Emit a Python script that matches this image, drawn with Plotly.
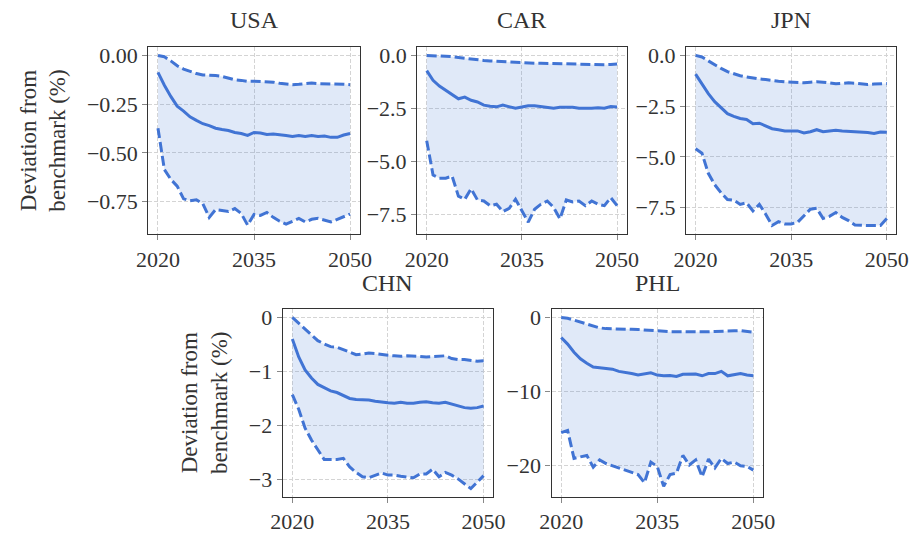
import plotly.graph_objects as go

years = list(range(2020, 2051))

usa_med = [-0.087, -0.153, -0.21, -0.26, -0.285, -0.315, -0.333, -0.35, -0.36, -0.373, -0.38, -0.385, -0.395, -0.40, -0.41,
           -0.395, -0.398, -0.405, -0.403, -0.405, -0.41, -0.415, -0.41, -0.415, -0.41, -0.415, -0.413, -0.42, -0.42, -0.408, -0.40]
usa_up = [0.0, -0.007, -0.028, -0.053, -0.07, -0.083, -0.093, -0.1, -0.1, -0.103, -0.108, -0.115, -0.125, -0.128, -0.133,
          -0.132, -0.133, -0.137, -0.137, -0.143, -0.147, -0.15, -0.148, -0.145, -0.142, -0.145, -0.145, -0.147, -0.148, -0.148, -0.15]
usa_lo = [-0.373, -0.585, -0.635, -0.67, -0.735, -0.745, -0.74, -0.76, -0.83, -0.79, -0.795, -0.80, -0.785, -0.81, -0.87,
          -0.815, -0.82, -0.805, -0.83, -0.85, -0.865, -0.85, -0.835, -0.853, -0.84, -0.835, -0.845, -0.853, -0.84, -0.825, -0.813]

car_med = [-0.72, -1.18, -1.45, -1.65, -1.85, -2.05, -1.97, -2.12, -2.2, -2.35, -2.4, -2.43, -2.35, -2.43, -2.5,
           -2.44, -2.38, -2.38, -2.41, -2.44, -2.5, -2.45, -2.45, -2.45, -2.5, -2.51, -2.5, -2.47, -2.5, -2.42, -2.44]
car_up = [0.0, -0.01, -0.03, -0.04, -0.06, -0.1, -0.14, -0.18, -0.22, -0.24, -0.26, -0.28, -0.3, -0.32, -0.34,
          -0.36, -0.37, -0.37, -0.37, -0.38, -0.38, -0.39, -0.39, -0.40, -0.41, -0.42, -0.43, -0.44, -0.44, -0.43, -0.41]
car_lo = [-4.03, -5.65, -5.8, -5.8, -5.7, -6.65, -6.8, -6.3, -6.83, -6.88, -7.1, -7.03, -7.38, -7.23, -6.8,
          -7.34, -7.88, -7.27, -7.03, -6.88, -7.18, -7.72, -6.83, -6.92, -6.88, -7.1, -6.88, -7.03, -7.1, -6.72, -7.1]

jpn_med = [-0.92, -1.4, -1.88, -2.28, -2.57, -2.87, -3.0, -3.11, -3.16, -3.37, -3.34, -3.48, -3.61, -3.66, -3.72,
           -3.72, -3.72, -3.82, -3.76, -3.66, -3.76, -3.72, -3.69, -3.72, -3.74, -3.74, -3.77, -3.8, -3.85, -3.77, -3.79]
jpn_up = [0.0, -0.08, -0.27, -0.47, -0.64, -0.8, -0.91, -1.0, -1.06, -1.12, -1.16, -1.19, -1.24, -1.27, -1.3,
          -1.32, -1.34, -1.35, -1.32, -1.3, -1.32, -1.35, -1.4, -1.38, -1.35, -1.37, -1.4, -1.43, -1.41, -1.38, -1.38]
jpn_lo = [-4.6, -4.82, -5.81, -6.37, -6.77, -7.1, -7.13, -7.34, -7.26, -7.66, -7.34, -7.82, -8.38, -8.19, -8.3,
          -8.3, -8.22, -7.9, -7.58, -7.53, -8.03, -7.93, -7.74, -7.98, -8.14, -8.35, -8.38, -8.38, -8.38, -8.38, -8.03]

chn_med = [-0.4, -0.73, -0.97, -1.12, -1.24, -1.3, -1.36, -1.39, -1.45, -1.5, -1.52, -1.52, -1.53, -1.55, -1.57,
           -1.58, -1.59, -1.57, -1.59, -1.59, -1.57, -1.56, -1.58, -1.59, -1.57, -1.6, -1.64, -1.67, -1.68, -1.67, -1.64]
chn_up = [0.0, -0.11, -0.22, -0.33, -0.43, -0.49, -0.54, -0.55, -0.6, -0.64, -0.69, -0.68, -0.66, -0.67, -0.69,
          -0.7, -0.71, -0.72, -0.71, -0.71, -0.72, -0.73, -0.72, -0.71, -0.71, -0.76, -0.78, -0.78, -0.79, -0.81, -0.8]
chn_lo = [-1.43, -1.7, -2.05, -2.27, -2.45, -2.63, -2.63, -2.63, -2.61, -2.77, -2.87, -2.95, -2.97, -2.92, -2.88,
          -2.92, -2.92, -2.94, -2.95, -2.97, -2.9, -2.9, -2.81, -2.95, -2.87, -2.92, -2.99, -3.08, -3.17, -3.05, -2.93]

phl_med = [-2.7, -3.6, -4.7, -5.6, -6.2, -6.7, -6.8, -6.9, -7.0, -7.3, -7.4, -7.6, -7.8, -7.7, -7.5,
           -7.8, -7.9, -7.85, -8.0, -7.7, -7.7, -7.65, -7.9, -7.6, -7.6, -7.3, -7.9, -7.8, -7.6, -7.8, -7.9]
phl_up = [0.0, -0.1, -0.35, -0.6, -0.8, -1.1, -1.4, -1.5, -1.55, -1.55, -1.6, -1.6, -1.62, -1.7, -1.7,
          -1.8, -1.9, -1.92, -1.92, -1.93, -2.0, -2.0, -1.97, -1.93, -1.9, -1.9, -1.87, -1.8, -1.78, -1.87, -2.0]
phl_lo = [-15.6, -15.3, -19.1, -18.9, -18.7, -20.3, -19.3, -19.8, -20.1, -20.4, -20.7, -20.9, -21.3, -22.4, -19.6,
          -20.2, -22.9, -21.3, -21.1, -18.7, -20.0, -19.3, -21.6, -19.2, -20.4, -19.1, -19.8, -19.6, -20.1, -20.2, -20.7]

countries = ["USA", "CAR", "JPN", "CHN", "PHL"]
medians = [usa_med, car_med, jpn_med, chn_med, phl_med]
uppers = [usa_up, car_up, jpn_up, chn_up, phl_up]
lowers = [usa_lo, car_lo, jpn_lo, chn_lo, phl_lo]
x_ticks = [2020, 2035, 2050]
y_ticks = [[0, -0.25, -0.5, -0.75], [0, -2.5, -5.0, -7.5], [0, -2.5, -5.0, -7.5], [0, -1, -2, -3], [0, -10, -20]]
y_formats = [".2f", ".1f", ".1f", "d", "d"]
y_ranges = [[-0.9165, 0.0435], [-8.45, 0.4], [-8.81, 0.417], [-3.32, 0.15], [-24.3, 1.11]]
ylabel = "Deviation from<br>benchmark (%)"

W, H = 923, 534
# axes boxes in pixels: (left, right, top, bottom)
boxes = [(140, 357, 44, 236), (416, 631, 44, 236), (692, 908, 44, 236),
         (278, 494, 313, 505), (554, 771, 313, 505)]

LINE = "#4174D4"
FILL = "rgba(65,117,212,0.16)"
FONT = "'Liberation Serif', serif"
FS = 22

fig = go.Figure()
layout = dict(width=W, height=H, margin=dict(l=0, r=0, t=0, b=0),
              plot_bgcolor="white", paper_bgcolor="white", showlegend=False,
              font=dict(family=FONT, size=FS, color="#333333"))
annotations = []
for i, c in enumerate(countries):
    n = "" if i == 0 else str(i + 1)
    xa, ya = "x" + n, "y" + n
    l, r, t, b = boxes[i]
    layout["xaxis" + n] = dict(domain=[l / W, r / W], range=[2018.5, 2051.5], anchor=ya,
                               tickvals=x_ticks, ticks="outside", ticklen=5, tickcolor="#888888",
                               showgrid=True, gridcolor="#d4d4d4", griddash="4px,2px", gridwidth=1,
                               showline=True, linecolor="#333333", linewidth=1.3, mirror=True,
                               zeroline=False, tickfont=dict(size=FS, family=FONT, color="#333333"))
    layout["yaxis" + n] = dict(domain=[1 - b / H, 1 - t / H], range=y_ranges[i], anchor=xa,
                               tickvals=y_ticks[i], tickformat=y_formats[i], ticks="outside", ticklen=5,
                               tickcolor="#888888", showgrid=True, gridcolor="#d4d4d4", griddash="4px,2px",
                               gridwidth=1, showline=True, linecolor="#333333", linewidth=1.3, mirror=True,
                               zeroline=False, tickfont=dict(size=FS, family=FONT, color="#333333"))
    # band
    fig.add_trace(go.Scatter(x=years, y=uppers[i], mode="lines", line=dict(width=0), xaxis=xa, yaxis=ya,
                             hoverinfo="skip"))
    fig.add_trace(go.Scatter(x=years, y=lowers[i], mode="lines", line=dict(width=0), fill="tonexty",
                             fillcolor=FILL, xaxis=xa, yaxis=ya, hoverinfo="skip"))
    fig.add_trace(go.Scatter(x=years, y=medians[i], mode="lines", line=dict(color=LINE, width=3),
                             xaxis=xa, yaxis=ya))
    fig.add_trace(go.Scatter(x=years, y=uppers[i], mode="lines", line=dict(color=LINE, width=3, dash="10px,4px"),
                             xaxis=xa, yaxis=ya))
    fig.add_trace(go.Scatter(x=years, y=lowers[i], mode="lines", line=dict(color=LINE, width=3, dash="10px,4px"),
                             xaxis=xa, yaxis=ya))
    annotations.append(dict(text=c, x=(l + r) / 2 / W, y=1 - (t - 12) / H, xref="paper", yref="paper",
                            xanchor="center", yanchor="bottom", showarrow=False,
                            font=dict(size=FS + 2, family=FONT, color="#333333")))

annotations.append(dict(text=ylabel, x=32 / W, y=1 - 140 / H, xref="paper", yref="paper", textangle=-90,
                        xanchor="center", yanchor="middle", showarrow=False,
                        font=dict(size=FS + 1, family=FONT, color="#333333")))
annotations.append(dict(text=ylabel, x=197 / W, y=1 - 409 / H, xref="paper", yref="paper", textangle=-90,
                        xanchor="center", yanchor="middle", showarrow=False,
                        font=dict(size=FS + 1, family=FONT, color="#333333")))
layout["annotations"] = annotations
fig.update_layout(**layout)
fig.write_html("out.html")
